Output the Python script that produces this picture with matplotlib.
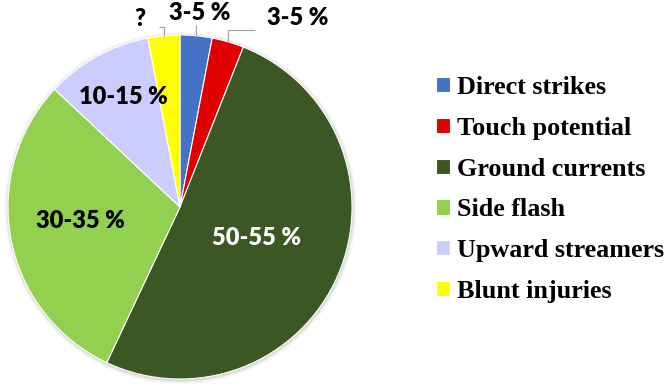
import matplotlib

matplotlib.use("Agg")
import matplotlib.pyplot as plt
import numpy as np
from matplotlib.patches import Circle

# Lightning injury mechanisms (share of cases)
categories = [
    "Direct strikes",
    "Touch potential",
    "Ground currents",
    "Side flash",
    "Upward streamers",
    "Blunt injuries",
]
shares = [3, 3, 51, 30, 10, 3]
slice_labels = ["3-5 %", "3-5 %", "50-55 %", "30-35 %", "10-15 %", "?"]
colors = ["#4472C4", "#E00000", "#3A5724", "#92D050", "#CCCCFF", "#FFFF00"]

W, H = 668, 391
fig = plt.figure(figsize=(W / 100, H / 100), dpi=100)
ax = fig.add_axes([0, 0, 1, 1])

cx, cy, r = 180, H - 207, 172

# soft shadow behind the pie
for k, a in [(4, 0.06), (2.5, 0.1), (1.2, 0.15)]:
    ax.add_patch(Circle((cx + 0.5, cy - 1), r + k, color="#808080", alpha=a, lw=0, zorder=0))

wedges, _ = ax.pie(
    shares,
    colors=colors,
    startangle=90,
    counterclock=False,
    center=(cx, cy),
    radius=r,
    wedgeprops=dict(edgecolor="white", linewidth=0.8),
    frame=True,
)
ax.set_xlim(0, W)
ax.set_ylim(0, H)
ax.axis("off")

label_font = dict(family="Lato", weight="heavy", size=17)

# labels inside the slices (pixel positions, y from top)
inside = {2: (257, 238, "white"), 3: (80, 221, "black"), 4: (123, 97, "black")}
for i, (x, y, c) in inside.items():
    ax.text(x, H - y, slice_labels[i], ha="center", va="center", color=c, **label_font)

# labels outside with leader lines: text centre, elbow y, line end x
outside = {0: ((200, 13), 25, None), 1: ((298, 18), 30, 255), 5: ((140, 19), 27, 159)}
for i, ((tx, ty), ey, ex) in outside.items():
    w = wedges[i]
    mid = np.deg2rad((w.theta1 + w.theta2) / 2)
    axx, axy = cx + r * np.cos(mid), cy + r * np.sin(mid)
    xs, ys = [axx, axx], [axy, H - ey]
    if ex is not None:
        xs.append(ex)
        ys.append(H - ey)
    ax.plot(xs, ys, color="#A6A6A6", lw=0.9, solid_capstyle="butt")
    ax.text(tx, H - ty, slice_labels[i], ha="center", va="center", **label_font)

ax.legend(
    wedges,
    categories,
    loc="upper left",
    bbox_to_anchor=(436 / W, 1 - 76 / H),
    bbox_transform=fig.transFigure,
    frameon=False,
    prop=dict(family="Liberation Serif", weight="bold", size=18.8),
    handlelength=0.52,
    handleheight=0.52,
    handletextpad=0.3,
    labelspacing=0.68,
    borderaxespad=0,
    borderpad=0,
)

fig.savefig("out.png", dpi=100)
